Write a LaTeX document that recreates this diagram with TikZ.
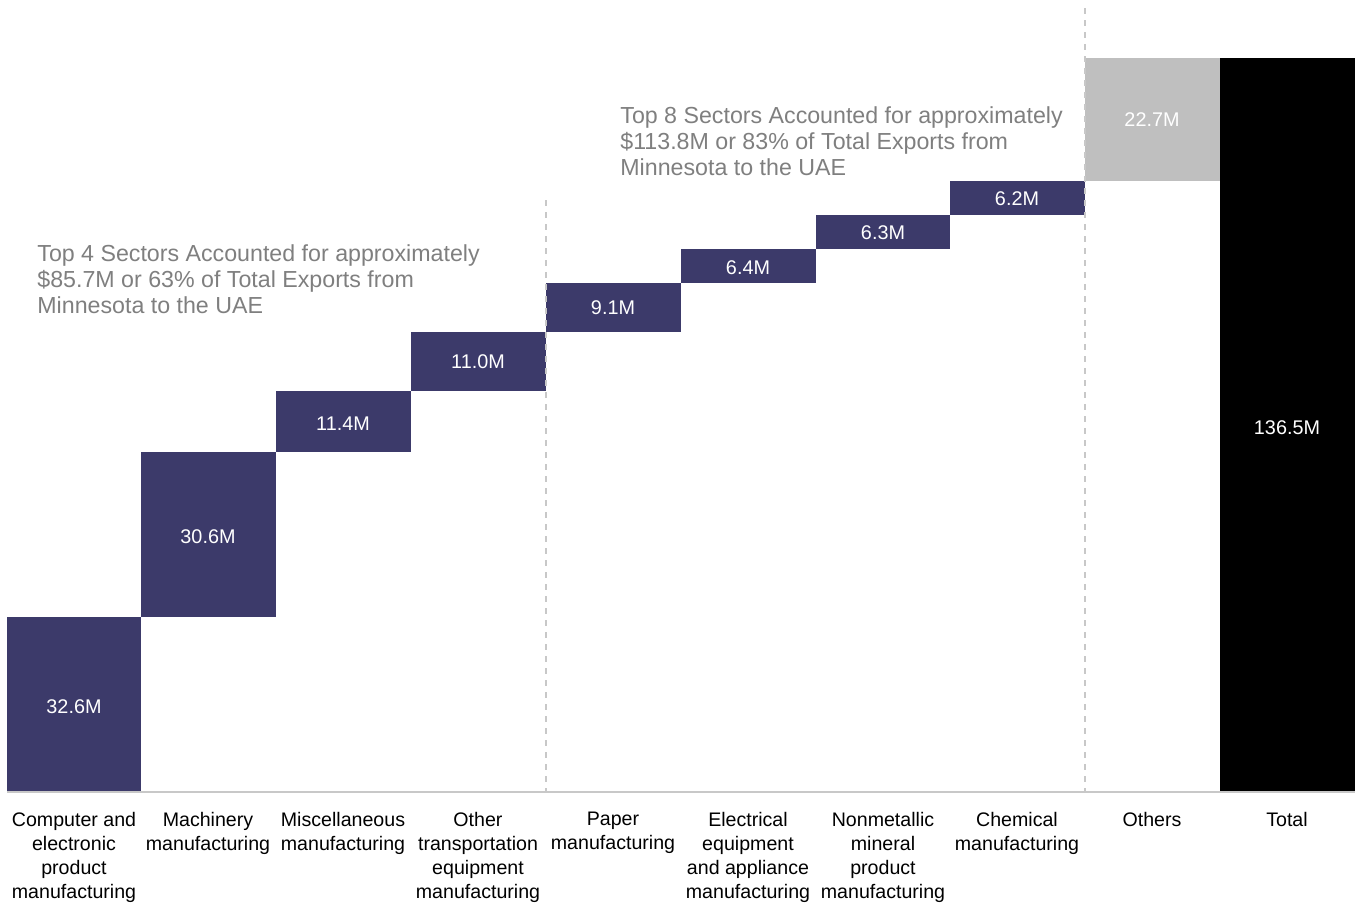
\documentclass[tikz,border=0pt]{standalone}
\usepackage{fontspec}
\setmainfont{Liberation Sans}
\definecolor{barblue}{HTML}{3C3A6A}
\definecolor{othergray}{HTML}{BFBFBF}
\definecolor{notegray}{HTML}{7F7F7F}
\definecolor{rulegray}{HTML}{C8C8C8}
\tikzset{
  barval/.style={anchor=center, text=white, inner sep=0pt, font=\fontsize{9.9}{11}\selectfont},
  catlabel/.style={anchor=north, align=center, inner sep=0pt, font=\fontsize{9.8}{12}\selectfont},
  note/.style={anchor=north west, align=left, inner sep=0pt, text=notegray, font=\fontsize{11.6}{13}\selectfont}
}
\begin{document}
\begin{tikzpicture}[x=0.5pt, y=-0.5pt]
      \useasboundingbox (0,0) rectangle (1356,906);
      % bars
      \fill[barblue] (7,617) rectangle (141,792);
      \fill[barblue] (141,452) rectangle (276,617);
      \fill[barblue] (276,391) rectangle (411,452);
      \fill[barblue] (411,332) rectangle (546,391);
      \fill[barblue] (546,283) rectangle (681,332);
      \fill[barblue] (681,248.5) rectangle (816,283);
      \fill[barblue] (816,214.5) rectangle (950,248.5);
      \fill[barblue] (950,181) rectangle (1085,214.5);
      \fill[othergray] (1085,58) rectangle (1220,181);
      \fill[black] (1220,58) rectangle (1355,792);
      \draw[rulegray, line width=0.6pt] (7,792) -- (1355,792);
      \draw[rulegray, line width=0.6pt, dash pattern=on 3pt off 3pt] (546,200) -- (546,792);
      \draw[rulegray, line width=0.6pt, dash pattern=on 3pt off 3pt] (1085,8) -- (1085,792);
      % values
      \node[barval] (v1) at (74,707) {32.6M};
      \node[barval] (v2) at (208,537) {30.6M};
      \node[barval] (v3) at (343,424) {11.4M};
      \node[barval] (v4) at (478,362) {11.0M};
      \node[barval] (v5) at (613,308) {9.1M};
      \node[barval] (v6) at (748,268) {6.4M};
      \node[barval] (v7) at (883,233) {6.3M};
      \node[barval] (v8) at (1017,199) {6.2M};
      \node[barval] (v9) at (1152,120) {22.7M};
      \node[barval] (v10) at (1287,428) {136.5M};
      % categories
      \node[catlabel] (c1) at (74,812) {Computer and\\electronic\\product\\manufacturing};
      \node[catlabel] (c2) at (208,812) {Machinery\\manufacturing};
      \node[catlabel] (c3) at (343,812) {Miscellaneous\\manufacturing};
      \node[catlabel] (c4) at (478,812) {Other\\transportation\\equipment\\manufacturing};
      \node[catlabel] (c5) at (613,812) {Paper\\manufacturing};
      \node[catlabel] (c6) at (748,812) {Electrical\\equipment\\and appliance\\manufacturing};
      \node[catlabel] (c7) at (883,812) {Nonmetallic\\mineral\\product\\manufacturing};
      \node[catlabel] (c8) at (1017,812) {Chemical\\manufacturing};
      \node[catlabel] (c9) at (1152,812) {Others};
      \node[catlabel] (c10) at (1287,812) {Total};
      % notes
      \node[note] (top4) at (37,244) {Top 4 Sectors Accounted for approximately\\\$85.7M or 63\% of Total Exports from\\Minnesota to the UAE};
      \node[note] (top8) at (620,106) {Top 8 Sectors Accounted for approximately\\\$113.8M or 83\% of Total Exports from\\Minnesota to the UAE};
    \end{tikzpicture}
\end{document}
